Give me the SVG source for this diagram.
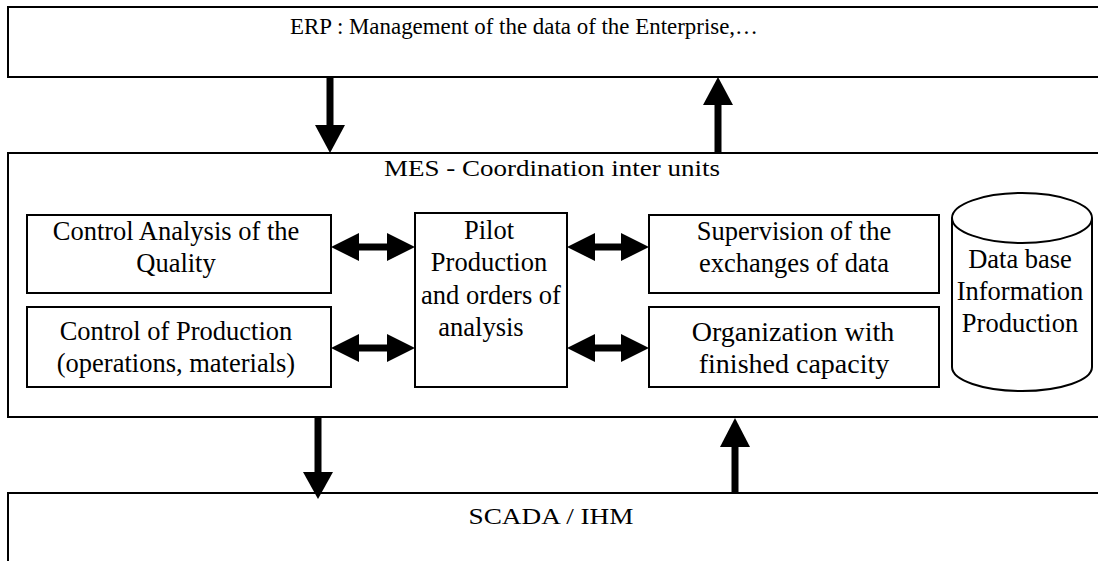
<svg xmlns="http://www.w3.org/2000/svg" width="1098" height="561" viewBox="0 0 1098 561">
  <style>
    .box { fill: #fff; stroke: #000; stroke-width: 2; }
    .lbl { font-family: "Liberation Serif", "Times New Roman", serif; fill: #000; text-anchor: middle; }
    .top { font-size: 23px; }
    .in { font-size: 26.5px; }
    .big { font-size: 28px; }
    .shaft { stroke: #000; stroke-width: 7; fill: none; }
    .head { fill: #000; stroke: none; }
  </style>

  <!-- Enterprise level -->
  <g id="erp">
    <rect class="box" x="8" y="7" width="1110" height="70"/>
    <text class="lbl top" x="524" y="34" textLength="468" lengthAdjust="spacingAndGlyphs">ERP : Management of the data of the Enterprise,…</text>
  </g>

  <!-- Manufacturing execution level -->
  <g id="mes">
    <rect class="box" x="8" y="153" width="1110" height="264"/>
    <text class="lbl top" x="552" y="176" textLength="336" lengthAdjust="spacingAndGlyphs">MES - Coordination inter units</text>
  </g>

  <g id="quality">
    <rect class="box" x="27" y="215" width="304" height="78"/>
    <text class="lbl in" x="176" y="240">Control Analysis of the</text>
    <text class="lbl in" x="176" y="272">Quality</text>
  </g>

  <g id="production-control">
    <rect class="box" x="27" y="307" width="304" height="80"/>
    <text class="lbl in" x="176" y="340">Control of Production</text>
    <text class="lbl in" x="176" y="372">(operations, materials)</text>
  </g>

  <g id="pilot">
    <rect class="box" x="415" y="213" width="152" height="174"/>
    <text class="lbl in" x="489" y="239">Pilot</text>
    <text class="lbl in" x="489" y="271">Production</text>
    <text class="lbl in" x="491" y="304">and orders of</text>
    <text class="lbl in" x="481" y="336">analysis</text>
  </g>

  <g id="supervision">
    <rect class="box" x="649" y="215" width="290" height="78"/>
    <text class="lbl in" x="794" y="240">Supervision of the</text>
    <text class="lbl in" x="794" y="272">exchanges of data</text>
  </g>

  <g id="capacity">
    <rect class="box" x="649" y="307" width="290" height="80"/>
    <text class="lbl big" x="793" y="341">Organization with</text>
    <text class="lbl big" x="794" y="373">finished capacity</text>
  </g>

  <g id="database">
    <path class="box" d="M952,218 L952,367 A70,24 0 0 0 1092,367 L1092,218"/>
    <ellipse class="box" cx="1022" cy="218" rx="70" ry="25"/>
    <text class="lbl in" x="1020" y="268">Data base</text>
    <text class="lbl in" x="1020" y="300">Information</text>
    <text class="lbl in" x="1020" y="332">Production</text>
  </g>

  <!-- Control level -->
  <g id="scada">
    <rect class="box" x="8" y="493" width="1110" height="90"/>
    <text class="lbl top" x="551" y="524" textLength="165" lengthAdjust="spacingAndGlyphs">SCADA / IHM</text>
  </g>

  <g id="connectors">
    <!-- ERP to MES -->
    <line class="shaft" x1="330" y1="76" x2="330" y2="127"/>
    <polygon class="head" points="315,125 345,125 330,153"/>
    <!-- MES to ERP -->
    <line class="shaft" x1="718" y1="103" x2="718" y2="153"/>
    <polygon class="head" points="703,105 733,105 718,77"/>
    <!-- MES to SCADA -->
    <line class="shaft" x1="318" y1="416" x2="318" y2="474"/>
    <polygon class="head" points="303,472 333,472 318,499"/>
    <!-- SCADA to MES -->
    <line class="shaft" x1="735" y1="445" x2="735" y2="493"/>
    <polygon class="head" points="720,447 750,447 735,418"/>

    <!-- two-way exchanges with the pilot block -->
    <line class="shaft" x1="357" y1="247" x2="389" y2="247"/>
    <polygon class="head" points="331,247 359,233 359,261"/>
    <polygon class="head" points="415,247 387,233 387,261"/>

    <line class="shaft" x1="357" y1="348" x2="389" y2="348"/>
    <polygon class="head" points="331,348 359,334 359,362"/>
    <polygon class="head" points="415,348 387,334 387,362"/>

    <line class="shaft" x1="593" y1="247" x2="623" y2="247"/>
    <polygon class="head" points="567,247 595,233 595,261"/>
    <polygon class="head" points="649,247 621,233 621,261"/>

    <line class="shaft" x1="593" y1="348" x2="623" y2="348"/>
    <polygon class="head" points="567,348 595,334 595,362"/>
    <polygon class="head" points="649,348 621,334 621,362"/>
  </g>
</svg>
